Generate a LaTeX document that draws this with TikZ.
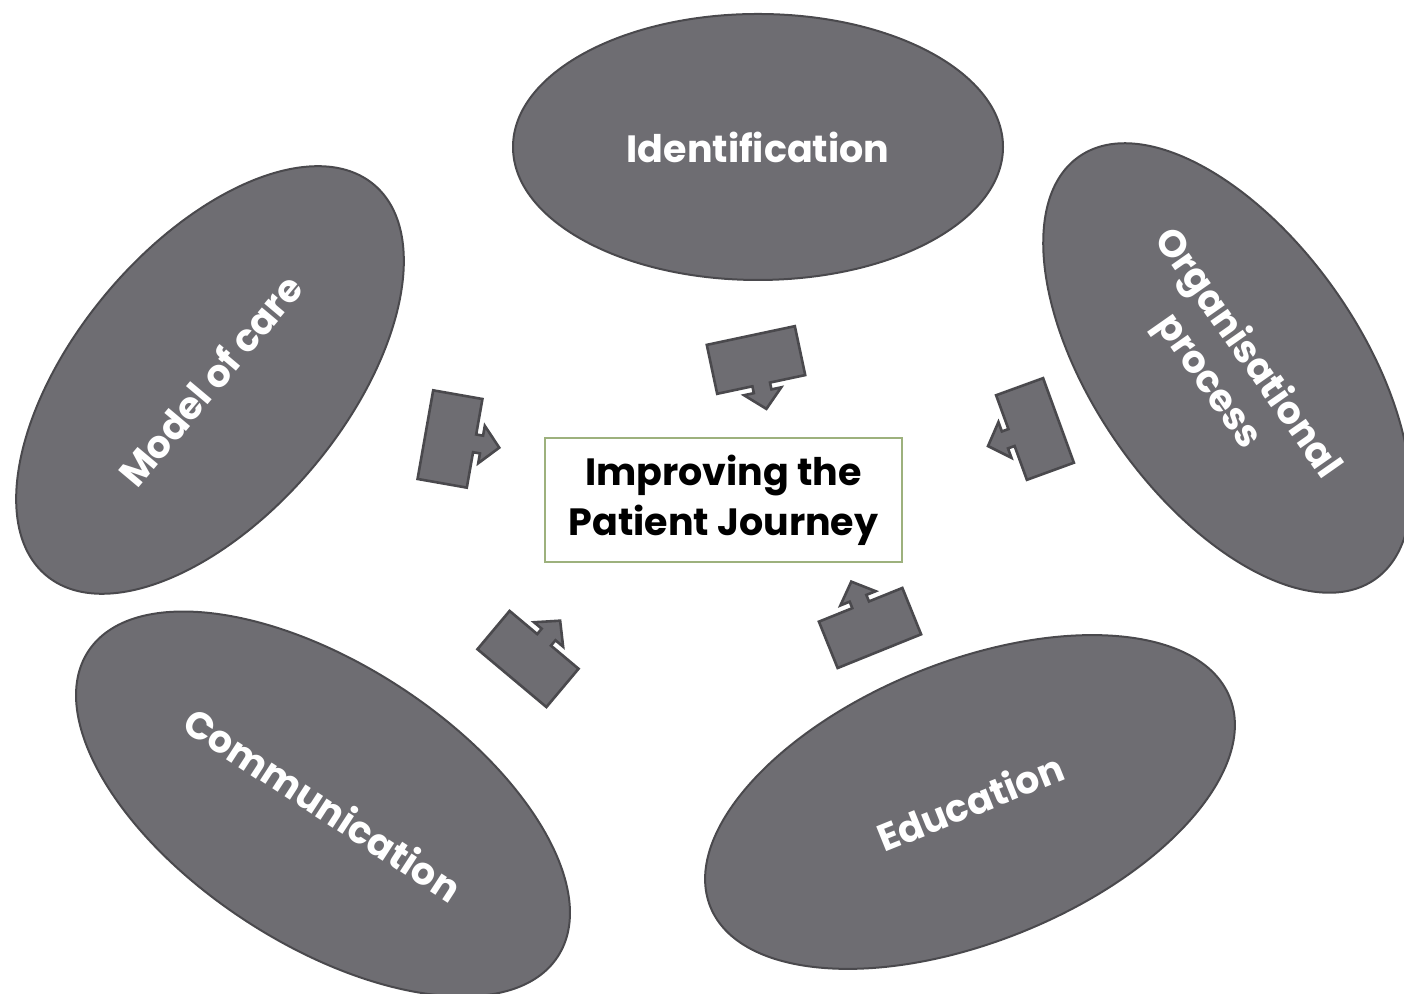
\documentclass[tikz,border=0pt]{standalone}
\usepackage{fontspec}
\setmainfont{Poppins}
\usetikzlibrary{shapes}
\usetikzlibrary{positioning}

\definecolor{ovalgrey}{HTML}{6E6D72}
\definecolor{ovalline}{HTML}{4A494D}
\definecolor{boxgreen}{HTML}{9DB17D}

\tikzset{
  oval/.style={ellipse, draw=ovalline, line width=1pt, fill=ovalgrey,
    inner sep=0pt, text=white, align=center,
    font=\fontsize{19}{24}\selectfont\bfseries},
  pointer/.style={draw=ovalline, line width=1.3pt, fill=ovalgrey, line join=miter}
}

% block with a stubby arrow on one long side: #1 = centre, #2 = direction
\newcommand{\sidearrow}[2]{
  \draw[pointer, shift={#1}, rotate=#2]
    (-25,-45) -- (25,-45) -- (25,-9) -- (32,-9) -- (32,-19) -- (50,0)
    -- (32,19) -- (32,9) -- (25,9) -- (25,45) -- (-25,45) -- cycle;
}

\begin{document}
\begin{tikzpicture}[x=0.5pt, y=0.5pt]
  \useasboundingbox (0,0) rectangle (1404,994);

  % the five themes
  \node[oval, minimum width=245pt, minimum height=133pt] (ident) at (758,847) {Identification};
  \node[oval, minimum width=255pt, minimum height=135pt, rotate=50] (model) at (210,614) {Model of care};
  \node[oval, minimum width=258pt, minimum height=133pt, rotate=-55] (organ) at (1227,626) {Organisational\\process};
  \node[oval, minimum width=280pt, minimum height=140pt, rotate=-33] (commun) at (323,190) {Communication};
  \node[oval, minimum width=280pt, minimum height=140pt, rotate=22] (educ) at (970,192) {Education};

  % centre box
  \node[draw=boxgreen, line width=1.2pt, fill=white, minimum width=178.5pt,
    minimum height=62pt, align=center, font=\fontsize{19}{25}\selectfont\bfseries]
    (journey) at (723.5,494) {Improving the\\Patient Journey};

  % arrows pointing in
  \sidearrow{(756,634)}{-78}
  \sidearrow{(450,555)}{-10}
  \sidearrow{(1035,565)}{200}
  \sidearrow{(528,335)}{50}
  \sidearrow{(870,366)}{112}
\end{tikzpicture}
\end{document}
